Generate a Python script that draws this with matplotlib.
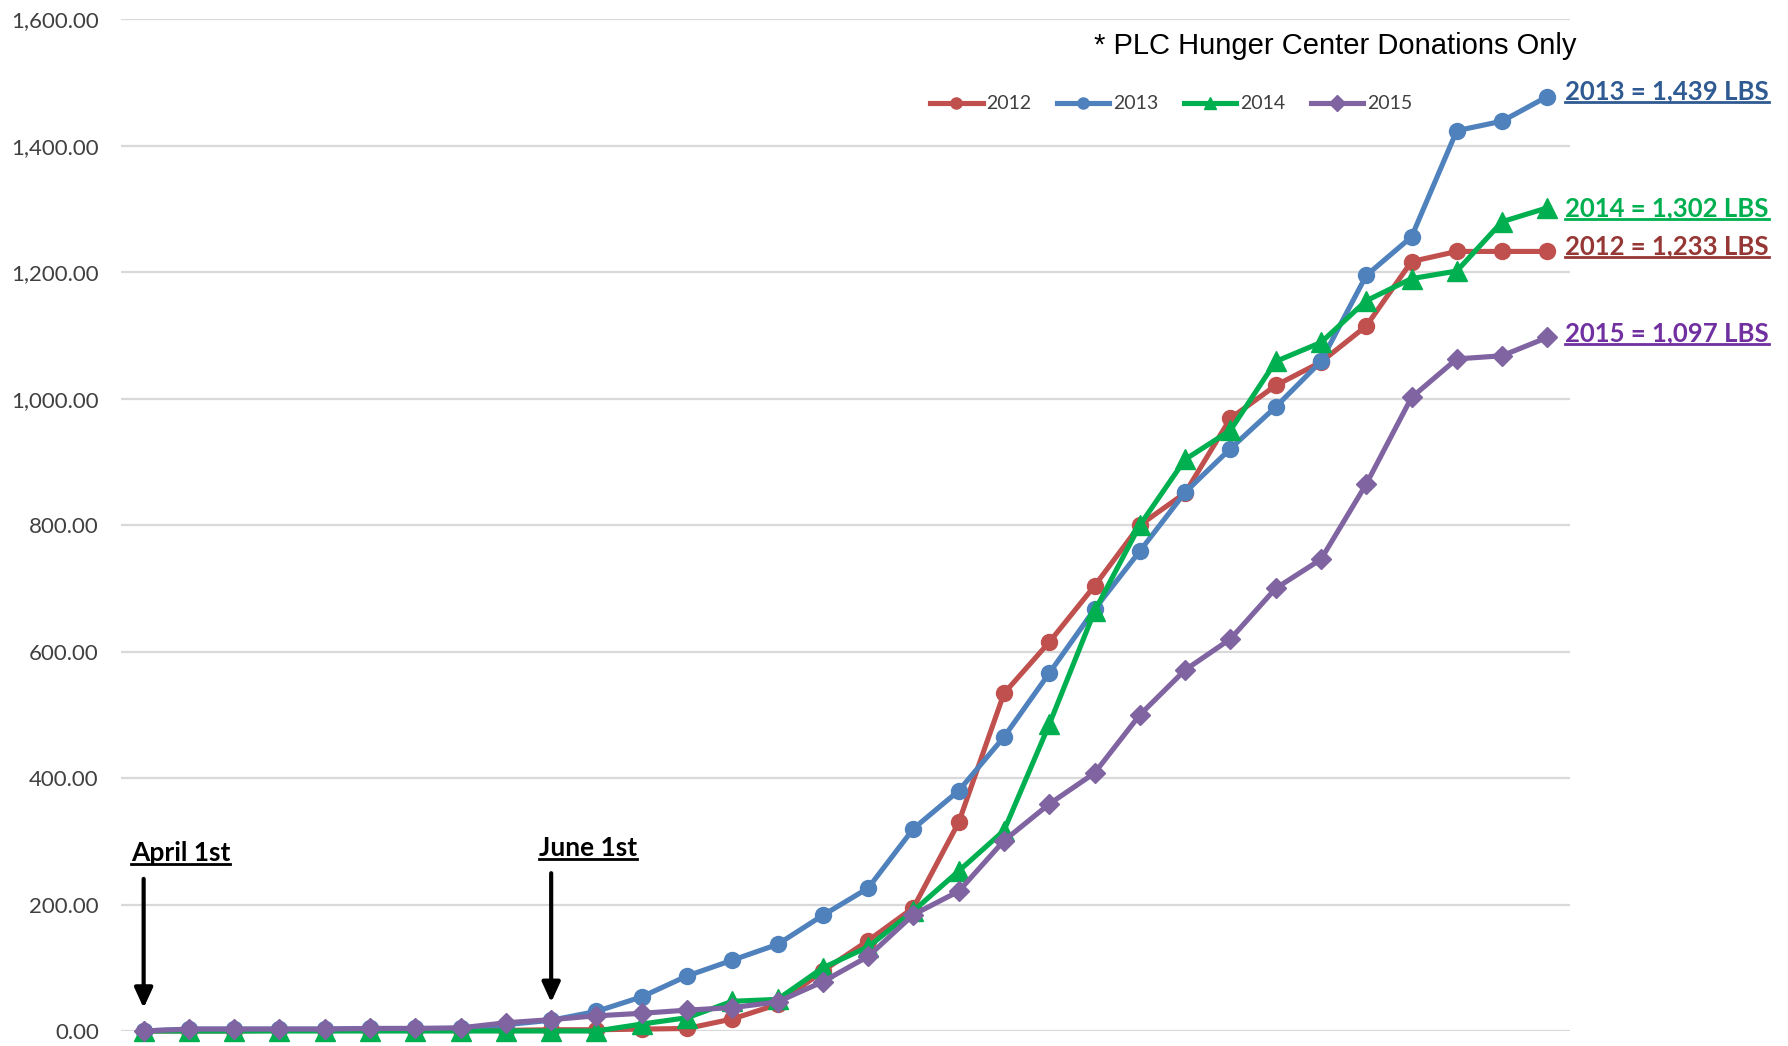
import numpy as np
import matplotlib
matplotlib.use("Agg")
import matplotlib.pyplot as plt

# cumulative lbs donated, one point per week starting April 1st
weeks = np.arange(32)
lbs_2012 = [0, 0, 0, 1, 1, 1, 1, 1, 1, 2, 2, 3, 4, 19, 42, 95, 143, 195, 330, 534,
            615, 704, 800, 851, 969, 1021, 1058, 1115, 1217, 1233, 1233, 1233]
lbs_2013 = [0, 3, 3, 3, 3, 4, 4, 4, 10, 17, 31, 54, 87, 112, 137, 183, 226, 320, 380, 465,
            566, 667, 759, 852, 921, 987, 1059, 1195, 1256, 1424, 1439, 1478]
lbs_2014 = [0, 0, 0, 0, 0, 0, 0, 0, 0, 0, 0, 11, 21, 47, 50, 100, 133, 190, 253, 317,
            485, 664, 800, 904, 950, 1059, 1089, 1155, 1190, 1202, 1280, 1302]
lbs_2015 = [0, 3, 3, 3, 3, 4, 4, 5, 13, 18, 24, 28, 33, 37, 46, 78, 118, 184, 221, 301,
            359, 408, 500, 571, 620, 700, 746, 865, 1002, 1063, 1068, 1097]

years = ["2012", "2013", "2014", "2015"]
series = [lbs_2012, lbs_2013, lbs_2014, lbs_2015]
colors = ["#C0504D", "#4F81BD", "#00B050", "#8064A2"]
markers = ["o", "o", "^", "D"]
msizes = [11.5, 11.5, 14, 10.5]

end_labels = ["2013 = 1,439 LBS", "2014 = 1,302 LBS", "2012 = 1,233 LBS", "2015 = 1,097 LBS"]
end_label_y = [1486, 1302, 1241, 1104]
end_label_colors = ["#2F5A92", "#00B050", "#953735", "#7030A0"]

plt.rcParams['font.family'] = ['Lato', 'DejaVu Sans']

fig = plt.figure(figsize=(17.88, 10.46), dpi=100)
ax = fig.add_axes([121 / 1788, 15 / 1046, (1570 - 121) / 1788, (1031 - 19.4) / 1046])

for ys, c, m, ms, lab in zip(series, colors, markers, msizes, years):
    ax.plot(weeks, ys, color=c, lw=3.7, marker=m, markersize=ms, label=lab,
            clip_on=False, zorder=3)

ax.set_xlim(-0.5, 31.5)
ax.set_ylim(0, 1600)
ax.set_yticks(np.arange(0, 1601, 200))
ax.yaxis.set_major_formatter(matplotlib.ticker.StrMethodFormatter("{x:,.2f}"))
ax.set_xticks([])
ax.tick_params(axis="y", length=0, pad=16, labelsize=16, labelcolor="#404040")
ax.grid(axis="y", color="#D9D9D9", lw=1.6)
ax.set_axisbelow(True)
for s in ax.spines.values():
    s.set_visible(False)

leg = fig.legend(loc="center", bbox_to_anchor=(0.655, 0.9006), ncol=4, frameon=False,
                 fontsize=14, handlelength=2.7, columnspacing=1.3, handletextpad=0.2)
for t in leg.get_texts():
    t.set_color("#404040")
for h in leg.legend_handles:
    h.set_markersize(8)

fig.text(1576 / 1788, 1 - 45.6 / 1046, "* PLC Hunger Center Donations Only",
         ha="right", va="center", fontsize=21,
         family=["Liberation Sans Narrow", "Liberation Sans", "DejaVu Sans"])

underlined = []
for txt, y, c in zip(end_labels, end_label_y, end_label_colors):
    t = ax.text(31.4, y, txt, ha="left", va="center", fontsize=18.5, fontweight="bold",
                color=c, clip_on=False)
    underlined.append((t, c))

# markers for the season start dates
arrow = dict(arrowstyle="-|>,head_width=0.55,head_length=1.2", color="black", lw=3)
ax.annotate("", xy=(0, 32), xytext=(0, 245), arrowprops=arrow)
ax.annotate("", xy=(9, 41), xytext=(9, 254), arrowprops=arrow)
t1 = ax.text(0.82, 281, "April 1st", ha="center", va="center", fontsize=19, fontweight="bold")
t2 = ax.text(9.82, 290, "June 1st", ha="center", va="center", fontsize=19, fontweight="bold")
underlined += [(t1, "black"), (t2, "black")]

# draw underlines beneath the texts
fig.canvas.draw()
r = fig.canvas.get_renderer()
inv = fig.transFigure.inverted()
for t, c in underlined:
    bb = t.get_window_extent(r)
    (x0, y0), (x1, _) = inv.transform([(bb.x0, bb.y0 + 1), (bb.x1, bb.y0)])
    fig.add_artist(plt.Line2D([x0, x1], [y0, y0], color=c, lw=2))

fig.savefig("out.png", dpi=100)
